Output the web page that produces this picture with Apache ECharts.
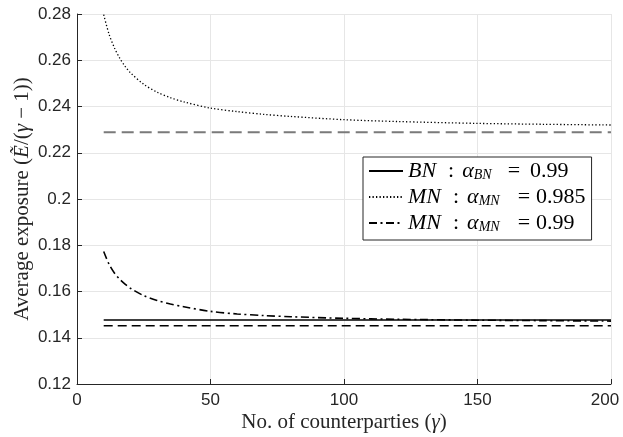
<!DOCTYPE html>
<html>
<head>
<meta charset="utf-8">
<script src="https://cdn.jsdelivr.net/npm/echarts@6/dist/echarts.min.js"></script>
<style>html,body{margin:0;padding:0;background:#fff}#c{width:623px;height:437px}</style>
</head>
<body>
<div id="c"></div>
<script>
// counterparties (gamma)
var gammaX = [10, 12, 14, 16, 18, 20, 25, 30, 35, 40, 50, 60, 70, 80, 100, 120, 150, 175, 200];
// MN alpha=0.985 (dotted)
var mn985 = [0.2797, 0.2713, 0.2654, 0.2609, 0.2574, 0.2546, 0.2496, 0.2462, 0.2438, 0.2420, 0.2393, 0.2378, 0.2366, 0.2357, 0.2343, 0.2335, 0.2327, 0.2323, 0.2320];
// MN alpha=0.99 (dash-dot)
var mn99 = [0.1773, 0.1718, 0.1680, 0.1653, 0.1632, 0.1614, 0.1582, 0.1561, 0.1546, 0.1534, 0.1514, 0.1503, 0.1496, 0.1491, 0.1484, 0.1480, 0.1476, 0.1474, 0.1472];
// BN alpha=0.99 (solid, constant)
var bnValue = 0.1477;
// reference levels (dashed)
var grayDashValue = 0.2289;
var blackDashValue = 0.1452;
var xRange = [10, 200];
var legendNames = ['BN : α_BN = 0.99', 'MN : α_MN =0.985', 'MN : α_MN =0.99'];

function pairs(xs, ys) { return xs.map(function (x, i) { return [x, ys[i]]; }); }
function flat(v) { return xRange.map(function (x) { return [x, v]; }); }

var serif = 'Liberation Serif';
var chart = echarts.init(document.getElementById('c'));
var legendRich = {
  it: { fontFamily: serif, fontStyle: 'italic', fontSize: 22, color: '#000', lineHeight: 22 },
  col: { fontFamily: serif, fontSize: 22, color: '#000', lineHeight: 22, padding: [0, 8, 0, 12] },
  eqA: { fontFamily: serif, fontSize: 22, color: '#000', lineHeight: 22, padding: [0, 10, 0, 16] },
  eqB: { fontFamily: serif, fontSize: 22, color: '#000', lineHeight: 22, padding: [0, 6, 0, 18] },
  num: { fontFamily: serif, fontSize: 22, color: '#000', lineHeight: 22 },
  sub: { fontFamily: serif, fontStyle: 'italic', fontSize: 14, color: '#000', lineHeight: 14, padding: [8, 0, 0, 0] }
};
var nameRich = {
  rm: { fontFamily: serif, fontSize: 21, color: '#262626' },
  it: { fontFamily: serif, fontStyle: 'italic', fontSize: 21, color: '#262626' }
};
chart.setOption({
  animation: false,
  grid: { left: 77, right: 12, top: 14, bottom: 53, outerBoundsMode: 'none', containLabel: false },
  xAxis: {
    type: 'value', min: 0, max: 200, interval: 50,
    name: '{rm|No. of counterparties (}{it|γ}{rm|)}',
    nameLocation: 'middle', nameGap: 28, nameMoveOverlap: false,
    nameTextStyle: { rich: nameRich },
    axisLine: { show: true, lineStyle: { color: '#262626', width: 1 } },
    axisTick: { show: true, inside: true, length: 5, lineStyle: { color: '#262626' } },
    axisLabel: {
      fontFamily: 'Liberation Sans', fontSize: 17, color: '#262626', margin: 8,
      formatter: function (v) { return v === 200 ? '{m|' + v + '}' : String(v); },
      rich: { m: { fontFamily: 'Liberation Sans', fontSize: 17, color: '#262626', padding: [0, 12, 0, 0] } }
    },
    splitLine: { show: true, lineStyle: { color: '#e6e6e6', width: 1 } }
  },
  yAxis: {
    type: 'value', min: 0.12, max: 0.28, interval: 0.02,
    name: '{rm|Average exposure (}{it|Ẽ}{rm|/(}{it|γ}{rm| − 1))}',
    nameLocation: 'middle', nameRotate: 90, nameGap: 44, nameMoveOverlap: false,
    nameTextStyle: { rich: nameRich },
    axisLine: { show: true, lineStyle: { color: '#262626', width: 1 } },
    axisTick: { show: true, inside: true, length: 5, lineStyle: { color: '#262626' } },
    axisLabel: { fontFamily: 'Liberation Sans', fontSize: 17, color: '#262626', margin: 6 },
    splitLine: { show: true, lineStyle: { color: '#e6e6e6', width: 1 } }
  },
  legend: {
    data: legendNames,
    orient: 'vertical',
    left: 363, top: 157,
    padding: [3, 6, 6, 5],
    itemGap: 4,
    itemWidth: 34, itemHeight: 22,
    backgroundColor: '#fff',
    borderColor: '#262626', borderWidth: 1, borderRadius: 0,
    itemStyle: { opacity: 0 },
    formatter: function (n) {
      var i = legendNames.indexOf(n);
      if (i === 0) return '{it|BN}{col|:}{it|α}{sub|BN}{eqA|=}{num|0.99}';
      if (i === 1) return '{it|MN}{col|:}{it|α}{sub|MN}{eqB|=}{num|0.985}';
      return '{it|MN}{col|:}{it|α}{sub|MN}{eqB|=}{num|0.99}';
    },
    textStyle: { rich: legendRich }
  },
  series: [
    { name: legendNames[0], type: 'line', data: flat(bnValue), symbol: 'none',
      lineStyle: { color: '#000', width: 1.6, type: 'solid' }, itemStyle: { color: '#000' }, z: 5 },
    { name: legendNames[1], type: 'line', data: pairs(gammaX, mn985), symbol: 'none', smooth: 0.3,
      lineStyle: { color: '#000', width: 1.3, type: [1.3, 2.2] }, itemStyle: { color: '#000' } },
    { name: legendNames[2], type: 'line', data: pairs(gammaX, mn99), symbol: 'none', smooth: 0.3,
      lineStyle: { color: '#000', width: 1.6, type: [8, 3.5, 2, 3.5] }, itemStyle: { color: '#000' } },
    { name: 'gray ref', type: 'line', data: flat(grayDashValue), symbol: 'none',
      lineStyle: { color: '#7a7a7a', width: 2, type: [12, 6] } },
    { name: 'black ref', type: 'line', data: flat(blackDashValue), symbol: 'none',
      lineStyle: { color: '#000', width: 1.3, type: [9, 5] } }
  ]
});
</script>
</body>
</html>
